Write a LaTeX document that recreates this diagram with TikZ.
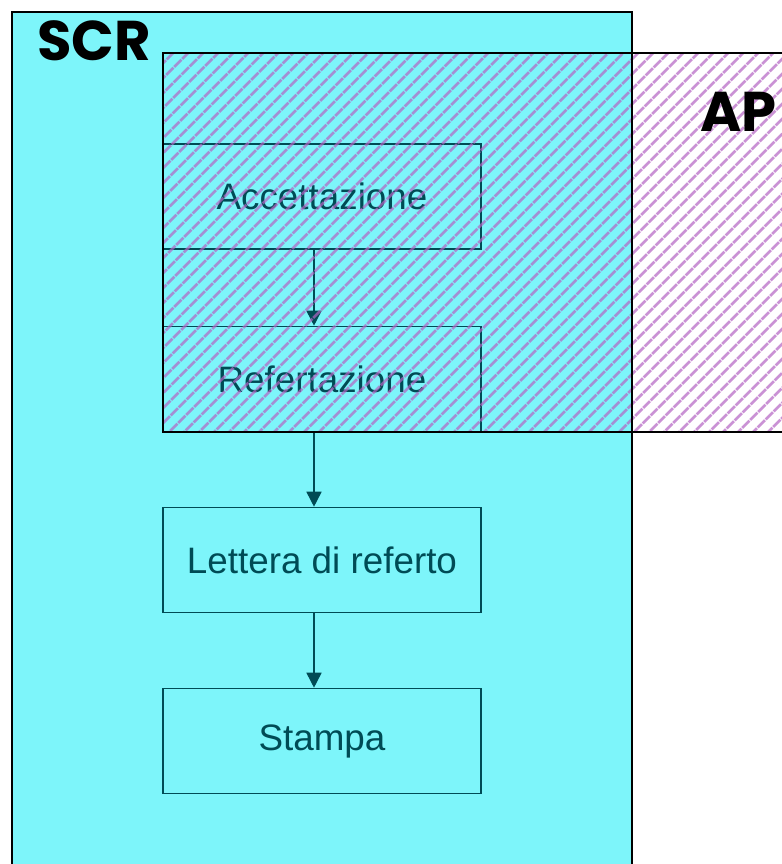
\documentclass[tikz,border=0pt]{standalone}
\usepackage{fontspec}
\setmainfont{Liberation Sans}
\newfontfamily\regionfont{Poppins}
\usetikzlibrary{positioning, arrows.meta, patterns.meta}
\definecolor{ScrColor}{RGB}{125,245,250}
\definecolor{ApColor}{RGB}{180,100,195}
\definecolor{BoxColor}{RGB}{0,75,85}
\tikzset{
  region label/.style={anchor=west, inner sep=0pt, font=\regionfont\bfseries\fontsize{28}{28}\selectfont},
  stepbox/.style={draw=BoxColor, line width=0.8pt, rectangle, minimum width=159pt, minimum height=52.5pt, inner sep=0pt, text=BoxColor, font=\fontsize{18.4}{22}\selectfont},
  flow/.style={draw=BoxColor, line width=0.8pt, -{Triangle[width=7.5pt,length=7.5pt]}}
}
\begin{document}
\begin{tikzpicture}[x=0.5pt, y=-0.5pt]
  \useasboundingbox (0,0) rectangle (782,864);
  \clip (0,0) rectangle (782,864);

  % SCR region
  \fill[ScrColor] (12,12) rectangle (632,880);

  % Steps
  \node[stepbox] (acc) at (322,196.5) {Accettazione};
  \node[stepbox] (ref) at (322,379) {Refertazione};
  \node[stepbox] (let) at (322,560) {Lettera di referto};
  \node[stepbox] (sta) at (322,741) {Stampa};

  \draw[flow] ([xshift=-4pt]acc.south) -- ([xshift=-4pt]ref.north);
  \draw[flow] ([xshift=-4pt]ref.south) -- ([xshift=-4pt]let.north);
  \draw[flow] ([xshift=-4pt]let.south) -- ([xshift=-4pt]sta.north);

  % AP region
  \fill[pattern={Lines[angle=45, distance=5.4pt, line width=1.5pt]}, pattern color=ApColor, fill opacity=0.7] (163,53) rectangle (800,432);
  \draw[line width=1.1pt] (800,53) -- (163,53) -- (163,432) -- (800,432);
  \draw[line width=1.2pt] (12,880) -- (12,12) -- (632,12) -- (632,880);

  % Labels
  \node[region label] (scr) at (37,41) {SCR};
  \node[region label] (ap) at (700,112) {AP};
\end{tikzpicture}
\end{document}
